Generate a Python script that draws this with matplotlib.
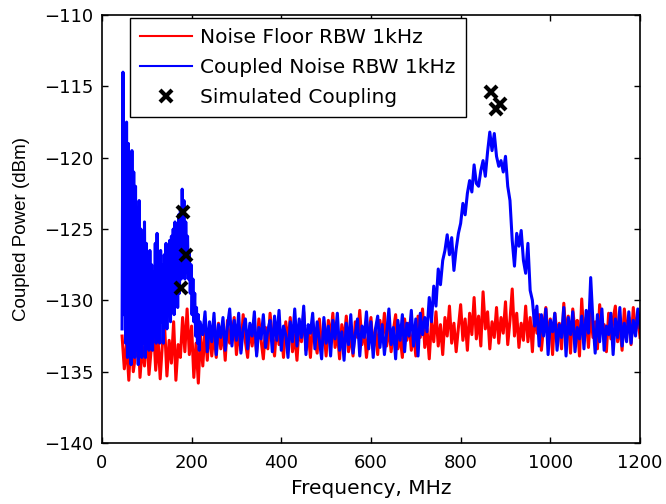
import numpy as np
import matplotlib
matplotlib.use("Agg")
import matplotlib.pyplot as plt

# Noise floor, 5 MHz grid from 45 to 1200 MHz
red_freq = np.arange(45, 1201, 5)
red_power = [
    -132.5, -134.8, -133.0, -135.6, -132.2, -135.0, -133.8, -131.6, -135.4, -133.2,
    -134.6, -132.0, -135.2, -133.4, -131.8, -134.9, -132.6, -135.5, -133.0, -131.9,
    -135.3, -132.8, -134.4, -131.5, -135.6, -133.1, -134.0, -131.2, -133.6, -130.6,
    -133.8, -131.8, -135.4, -133.0, -135.8, -132.4, -134.6, -132.0, -134.2, -131.9,
    -133.9, -132.3, -134.0, -131.6, -133.4, -132.0, -134.2, -131.4, -133.0, -132.6,
    -131.2, -133.8, -132.1, -133.5, -131.0, -132.9, -134.0, -131.8, -133.2, -132.0,
    -133.7, -131.3, -132.8, -134.1, -131.9, -133.4, -130.9, -132.6, -133.9, -131.7,
    -133.1, -132.2, -134.0, -131.5, -133.0, -131.2, -133.6, -132.4, -134.2, -131.8,
    -132.9, -130.8, -133.5, -132.1, -134.0, -131.6, -132.8, -133.7, -131.3, -133.2,
    -132.0, -133.9, -131.4, -132.7, -130.9, -133.3, -132.2, -134.1, -131.7, -132.9,
    -131.1, -133.6, -132.3, -133.9, -131.5, -132.6, -130.7, -133.1, -131.9, -134.0,
    -132.4, -131.2, -133.5, -132.0, -133.8, -131.4, -132.7, -130.9, -133.2, -131.8,
    -133.6, -132.1, -131.0, -133.4, -132.5, -134.0, -131.3, -132.8, -131.6, -133.5,
    -132.2, -133.9, -131.1, -132.6, -130.6, -133.3, -132.0, -134.1, -131.5, -132.9,
    -130.8, -133.2, -131.7, -133.8, -131.2, -132.5, -130.4, -133.0, -131.6, -133.6,
    -131.9, -130.3, -132.8, -131.3, -133.5, -130.9, -132.4, -129.8, -132.7, -131.1,
    -133.2, -129.4, -132.0, -130.8, -133.4, -131.5, -132.6, -130.5, -133.0, -131.2,
    -132.3, -130.1, -133.1, -131.4, -129.2, -132.5, -130.9, -133.3, -131.6, -132.8,
    -130.4, -132.9, -131.2, -133.6, -130.7, -132.3, -131.0, -133.5, -131.8, -130.5,
    -132.7, -131.3, -133.8, -130.9, -132.4, -131.6, -133.4, -130.2, -132.5, -131.1,
    -133.7, -130.6, -132.2, -131.4, -133.9, -129.9, -132.8, -131.2, -133.3, -130.8,
    -132.6, -131.5, -133.4, -130.3, -132.1, -131.7, -133.6, -130.9, -132.7, -131.3,
    -130.4, -132.9, -131.8, -133.5, -130.6, -132.3, -131.2, -133.1, -130.5, -132.2,
    -131.0, -132.6,
]

# Coupled noise: 2 MHz grid up to 219 MHz, then 5 MHz grid
blue_freq = np.concatenate([np.arange(45, 220, 2), np.arange(225, 1201, 5)])
blue_power = [
    -132.0, -114.0, -131.0, -118.0, -133.0, -117.5, -134.0, -119.0, -131.0, -120.0,
    -134.5, -119.5, -133.0, -121.0, -134.0, -122.0, -133.5, -123.5, -134.5, -123.0,
    -133.0, -125.0, -134.0, -125.5, -133.0, -124.5, -134.0, -126.0, -132.5, -127.0,
    -133.5, -126.5, -132.5, -127.5, -133.5, -128.0, -132.0, -126.0, -133.0, -125.3,
    -132.0, -127.0, -133.0, -126.5, -131.5, -127.5, -133.0, -126.8, -131.0, -126.0,
    -132.0, -127.0, -130.5, -125.8, -131.5, -125.5, -130.0, -125.0, -131.0, -124.5,
    -130.0, -125.0, -130.5, -124.0, -129.5, -123.5, -128.5, -122.2, -127.0, -123.0,
    -128.5, -124.5, -127.5, -125.5, -128.5, -126.5, -129.5, -127.5, -131.0, -128.5,
    -131.5, -129.5, -132.5, -130.5, -133.0, -131.0, -133.5, -131.5,
    -132.4, -130.8, -133.6, -131.5, -132.9, -130.9, -133.8, -131.7, -132.6, -131.2,
    -133.5, -131.8, -130.6, -133.2, -131.4, -132.8, -130.9, -133.7, -132.0, -131.3,
    -133.4, -131.6, -132.5, -130.8, -133.9, -131.9, -132.7, -131.0, -133.3, -132.1,
    -131.4, -133.6, -131.1, -132.8, -130.7, -133.5, -131.8, -132.4, -134.0, -131.5,
    -132.9, -130.6, -133.2, -131.3, -132.6, -130.4, -133.8, -131.7, -132.3, -130.9,
    -133.4, -131.5, -132.8, -134.1, -131.2, -133.0, -131.8, -133.9, -131.4, -132.7,
    -130.9, -133.5, -132.2, -134.2, -131.6, -133.1, -131.0, -133.7, -132.4, -131.3,
    -133.9, -131.8, -132.6, -130.8, -133.4, -131.5, -134.0, -132.0, -131.1, -133.3,
    -131.7, -133.8, -132.3, -130.6, -133.1, -131.9, -134.1, -131.4, -132.8, -131.0,
    -133.6, -131.6, -132.5, -130.7, -133.2, -131.3, -133.9, -130.9, -132.4, -131.2,
    -132.2, -129.8, -131.5, -129.0, -130.4, -127.8, -128.9, -127.2, -126.5, -125.4,
    -126.8, -125.6, -127.9, -126.4, -125.3, -124.6, -123.2, -124.0, -122.5, -121.6,
    -122.4, -120.5, -121.8, -122.0, -120.9, -120.2, -121.3, -119.6, -118.2, -119.5,
    -118.3, -119.9, -120.6, -120.2, -121.0, -119.9, -122.0, -123.0, -125.8, -127.6,
    -125.3, -126.2, -125.1, -127.2, -128.1, -126.0, -129.3, -130.0, -131.8, -130.4,
    -133.2, -131.0, -132.5, -130.6, -133.8, -131.4, -132.2, -130.9, -133.5, -131.7,
    -132.6, -130.5, -133.9, -131.2, -132.4, -130.8, -133.6, -131.9, -132.7, -131.1,
    -133.4, -130.7, -132.3, -128.4, -131.5, -133.7, -131.0, -132.9, -130.6, -133.5,
    -131.8, -132.4, -130.9, -133.8, -131.3, -132.6, -130.5, -133.2, -131.6, -132.9,
    -130.8, -133.0, -131.4, -132.5, -130.6, -131.9,
]

# Simulated coupling points
sim_freq = [181, 187, 176, 867, 888, 878]
sim_power = [-123.8, -126.8, -129.1, -115.4, -116.2, -116.6]

fig = plt.figure(figsize=(6.66, 5.04), dpi=100)
ax = fig.add_axes([0.153, 0.121, 0.808, 0.849])

ax.plot(red_freq, red_power, color='#ff0000', lw=2.2, label='Noise Floor RBW 1kHz')
ax.plot(blue_freq, blue_power, color='#0000ff', lw=2.2, label='Coupled Noise RBW 1kHz')
ax.plot(sim_freq, sim_power, 'x', color='black', ms=9, mew=3, ls='none',
        label='Simulated Coupling')

ax.set_xlim(0, 1200)
ax.set_ylim(-140, -110)
ax.set_xticks(range(0, 1201, 200))
ax.set_yticks(range(-140, -109, 5))
ax.tick_params(direction='in', length=4, width=1, top=True, right=True,
               labelsize=13)
ax.tick_params(axis='x', pad=8)
ax.tick_params(axis='y', pad=6)
for s in ax.spines.values():
    s.set_linewidth(1.2)

ax.set_xlabel('Frequency, MHz', fontsize=14.5, labelpad=5)
ax.set_ylabel('Coupled Power (dBm)', fontsize=13.5, family='Liberation Sans',
              labelpad=10)

leg = ax.legend(loc='upper left', bbox_to_anchor=(0.052, 0.993), fontsize=14.5,
                fancybox=False, framealpha=1, edgecolor='black',
                handlelength=2.6, handletextpad=0.4, labelspacing=0.55,
                borderpad=0.5, borderaxespad=0)
leg.get_frame().set_linewidth(1.0)
for h in leg.get_lines()[:2]:
    h.set_linewidth(1.5)

fig.savefig('out.png', dpi=100)
